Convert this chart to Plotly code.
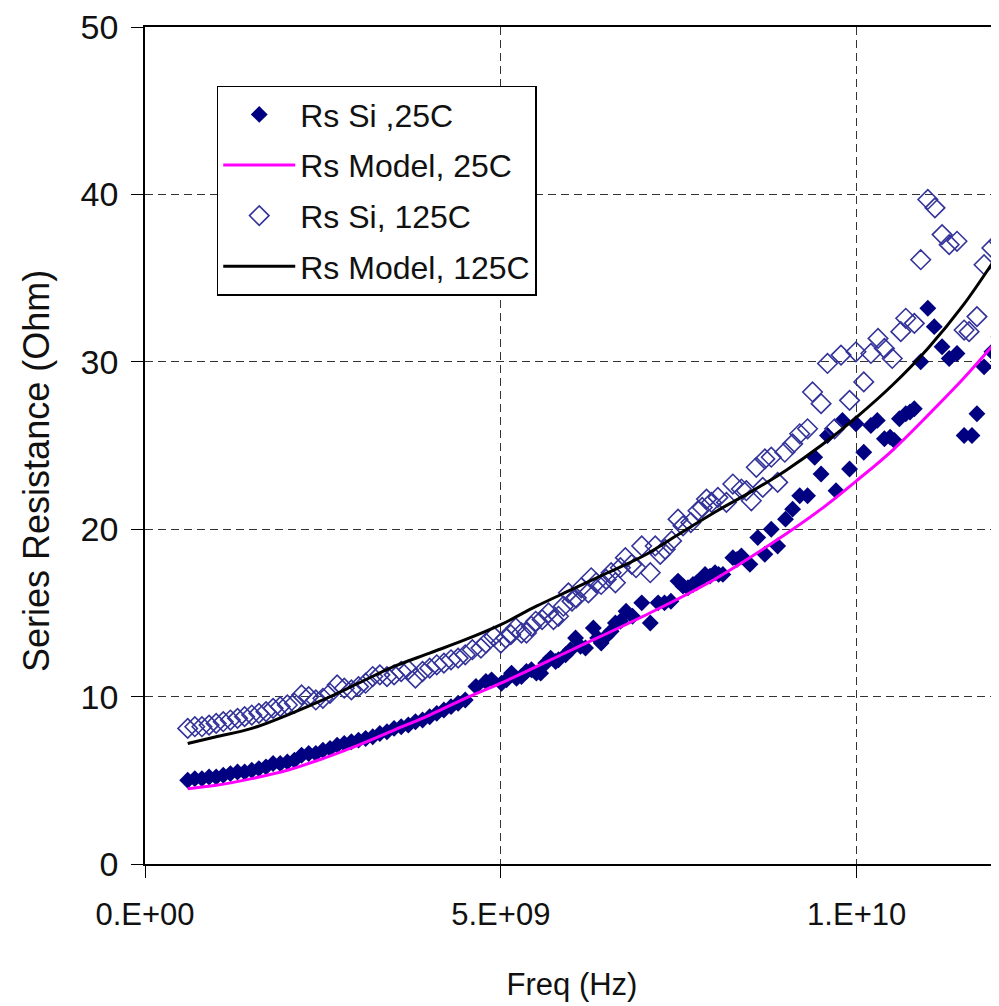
import numpy as np
import plotly.graph_objects as go

# %% data (frequency in GHz, resistance in Ohm)
f_si_25 = [0.6, 0.7, 0.8, 0.9, 1.0, 1.1, 1.2, 1.3, 1.4, 1.5, 1.6, 1.7, 1.8, 1.9, 2.0,
           2.1, 2.2, 2.3, 2.4, 2.5, 2.6, 2.7, 2.8, 2.9, 3.0, 3.1, 3.2, 3.3, 3.4, 3.5,
           3.6, 3.7, 3.8, 3.9, 4.0, 4.1, 4.2, 4.3, 4.4, 4.5, 4.65, 4.79, 4.87, 5.01,
           5.08, 5.15, 5.22, 5.29, 5.36, 5.43, 5.5, 5.56, 5.63, 5.7, 5.77, 5.81, 5.91,
           5.98, 6.05, 6.12, 6.19, 6.3, 6.36, 6.41, 6.48, 6.55, 6.61, 6.68, 6.76, 6.85,
           6.98, 7.1, 7.21, 7.3, 7.39, 7.49, 7.56, 7.63, 7.7, 7.75, 7.81, 7.87, 7.94,
           8.01, 8.06, 8.12, 8.26, 8.32, 8.38, 8.5, 8.61, 8.71, 8.8, 8.89, 9.0, 9.1,
           9.2, 9.31, 9.41, 9.5, 9.59, 9.71, 9.8, 9.9, 9.99, 10.1, 10.2, 10.29, 10.39,
           10.47, 10.53, 10.6, 10.69, 10.75, 10.81, 10.9, 11.0, 11.09, 11.2, 11.3,
           11.41, 11.51, 11.62, 11.69, 11.79, 11.9, 12.0]
rs_si_25 = [5.0, 5.1, 5.1, 5.2, 5.2, 5.3, 5.4, 5.5, 5.5, 5.6, 5.7, 5.8, 6.0, 6.0, 6.1,
            6.2, 6.5, 6.6, 6.6, 6.8, 6.9, 7.1, 7.2, 7.3, 7.4, 7.5, 7.6, 7.8, 7.9, 8.1,
            8.2, 8.3, 8.5, 8.6, 8.8, 9.0, 9.2, 9.4, 9.6, 9.8, 10.6, 10.9, 11.0, 10.8,
            11.0, 11.4, 11.1, 11.2, 11.5, 11.6, 11.4, 11.4, 12.0, 12.3, 12.1, 12.2, 12.5,
            12.8, 13.5, 13.0, 12.9, 14.1, 13.5, 13.2, 13.6, 13.9, 14.4, 14.5, 15.1, 14.8,
            15.6, 14.4, 15.6, 15.6, 15.7, 16.9, 16.6, 16.5, 16.7, 16.8, 17.0, 17.3, 17.2,
            17.4, 17.3, 17.3, 18.3, 18.2, 18.4, 17.9, 19.5, 18.5, 20.0, 19.0, 20.6, 21.2,
            22.0, 22.0, 24.3, 23.3, 25.6, 22.3, 26.5, 23.6, 26.3, 24.6, 26.2, 26.5, 25.4,
            25.5, 25.3, 26.6, 26.9, 27.0, 27.2, 30.0, 33.2, 32.1, 30.9, 30.2,
            30.5, 25.6, 25.6, 26.9, 29.7, 30.6, 31.5]

f_si_125 = [0.6, 0.7, 0.8, 0.9, 1.0, 1.1, 1.2, 1.3, 1.4, 1.5, 1.6, 1.7, 1.8, 1.9, 2.0,
            2.1, 2.2, 2.3, 2.4, 2.5, 2.6, 2.7, 2.8, 2.9, 3.0, 3.1, 3.2, 3.3, 3.4, 3.5,
            3.6, 3.7, 3.8, 3.9, 4.0, 4.1, 4.2, 4.3, 4.4, 4.5, 4.6, 4.72, 4.79, 4.9, 5.0,
            5.07, 5.14, 5.21, 5.29, 5.36, 5.43, 5.49, 5.58, 5.67, 5.74, 5.81, 5.88, 5.95,
            6.0, 6.06, 6.13, 6.23, 6.27, 6.34, 6.41, 6.48, 6.55, 6.61, 6.68, 6.75, 6.84,
            6.9, 6.98, 7.1, 7.17, 7.24, 7.31, 7.4, 7.49, 7.56, 7.67, 7.77, 7.83, 7.89,
            7.96, 8.05, 8.17, 8.26, 8.38, 8.45, 8.52, 8.59, 8.68, 8.71, 8.8, 8.89, 8.99,
            9.1, 9.2, 9.31, 9.38, 9.5, 9.59, 9.69, 9.78, 9.9, 9.99, 10.1, 10.2, 10.3,
            10.39, 10.5, 10.62, 10.69, 10.81, 10.9, 11.0, 11.1, 11.2, 11.3, 11.41, 11.51,
            11.58, 11.69, 11.79, 11.9, 12.0]
rs_si_125 = [8.1, 8.2, 8.2, 8.3, 8.4, 8.5, 8.6, 8.7, 8.8, 8.9, 9.0, 9.1, 9.3, 9.4, 9.5,
             9.6, 10.1, 10.0, 9.8, 9.9, 10.2, 10.7, 10.5, 10.4, 10.6, 10.8, 11.2, 11.3, 11.2, 11.3,
             11.5, 11.6, 11.1, 11.5, 11.7, 11.9, 12.0, 12.2, 12.3, 12.5, 12.8, 12.9, 13.2, 13.6, 13.2,
             13.5, 13.7, 14.1, 13.8, 13.8, 14.2, 14.5, 14.6, 15.0, 14.6, 14.8, 15.4, 16.2,
             15.7, 15.9, 16.5, 16.2, 17.1, 16.8, 16.7, 17.0, 17.4, 16.8, 17.7, 18.3, 17.9,
             17.7, 19.0, 17.4, 19.0, 18.5, 18.8, 19.3, 20.6, 20.2, 20.4, 21.1, 21.3, 21.8,
             21.6, 21.9, 21.6, 22.7, 22.4, 22.3, 21.7, 23.7, 22.5, 24.2, 24.3, 22.8, 24.6,
             25.1, 25.7, 26.0, 28.2, 27.5, 29.9, 26.0, 30.4, 27.7, 30.6, 28.8, 30.5, 31.4,
             30.8, 30.2, 31.8, 32.6, 32.3, 36.1, 39.7, 39.2, 37.6, 37.0, 37.2, 31.9,
             31.8, 32.7, 35.8, 36.8, 37.2]

f_model_25 = [0.6, 1.0, 1.5, 2.0, 2.5, 3.0, 3.5, 4.0, 4.5, 5.0, 6.0, 7.0, 8.0, 9.0,
              9.5, 10.0, 10.5, 11.0, 11.5, 12.0]
rs_model_25 = [4.5, 4.7, 5.1, 5.6, 6.3, 7.1, 8.0, 8.9, 9.9, 10.8, 12.8, 14.8, 17.0, 19.7,
               21.2, 22.9, 24.7, 26.8, 29.0, 31.4]

f_model_125 = [0.6, 1.0, 1.5, 2.0, 2.5, 3.0, 3.5, 4.0, 4.5, 5.0, 5.5, 6.0, 6.5, 7.0,
               7.5, 8.0, 8.5, 9.0, 9.5, 10.0, 10.5, 11.0, 11.5, 12.0]
rs_model_125 = [7.2, 7.6, 8.1, 8.9, 9.8, 10.8, 11.8, 12.6, 13.4, 14.3, 15.4, 16.4, 17.4,
                18.4, 19.7, 21.0, 22.2, 23.5, 25.0, 26.7, 28.6, 30.8, 33.4, 36.5]

x_ticks = [0, 5e9, 1e10]
x_ticklabels = ['0.E+00', '5.E+09', '1.E+10']
y_ticks = [0, 10, 20, 30, 40, 50]

GHZ = 1e9
FONT = 'Liberation Sans, Arial, sans-serif'
GRID = dict(showgrid=True, gridcolor='#333333', griddash='8px,5px', gridwidth=1.2)

fig = go.Figure()

fig.add_trace(go.Scatter(
    x=np.array(f_si_25) * GHZ, y=rs_si_25, mode='markers', name='Rs Si ,25C',
    legendgroup='a',
    marker=dict(symbol='diamond', size=13, color='#000080', line=dict(width=0)),
))
fig.add_trace(go.Scatter(
    x=np.array(f_model_25) * GHZ, y=rs_model_25, mode='lines', name='Rs Model, 25C',
    legendgroup='b',
    line=dict(color='#ff00ff', width=3, shape='spline'),
))
fig.add_trace(go.Scatter(
    x=np.array(f_si_125) * GHZ, y=rs_si_125, mode='markers', name='Rs Si, 125C',
    legendgroup='c',
    marker=dict(symbol='diamond-open', size=15, color='#33339a', line=dict(width=1.6)),
))
fig.add_trace(go.Scatter(
    x=np.array(f_model_125) * GHZ, y=rs_model_125, mode='lines', name='Rs Model, 125C',
    legendgroup='d',
    line=dict(color='#000000', width=3, shape='spline'),
))

# page body has an 8px margin, so the figure is shrunk by that much
fig.update_layout(
    width=991, height=998,
    margin=dict(l=137, r=0, t=17, b=142),
    paper_bgcolor='white', plot_bgcolor='white',
    font=dict(family=FONT, color='#111111'),
    legend=dict(
        x=0.084, y=0.93, xanchor='left', yanchor='top',
        bgcolor='white', bordercolor='#000000', borderwidth=1.5,
        font=dict(size=32, family=FONT), tracegroupgap=6, itemwidth=72,
    ),
    xaxis=dict(
        range=[0, 1.2e10], tickvals=x_ticks, ticktext=x_ticklabels,
        showline=True, mirror=True, linecolor='#000000', linewidth=1.5,
        ticks='outside', ticklen=12, tickcolor='#000000',
        zeroline=False, tickfont=dict(size=31), ticklabelstandoff=10,
        title=dict(text='Freq (Hz)', font=dict(size=31), standoff=42),
        **GRID,
    ),
    yaxis=dict(
        range=[0, 50.002], tickvals=y_ticks, ticklabeloverflow='allow',
        showline=True, linecolor='#000000', linewidth=1.5,
        ticks='outside', ticklen=12, tickcolor='#000000',
        zeroline=False, tickfont=dict(size=34), ticklabelstandoff=6,
        **GRID,
    ),
    annotations=[dict(
        text='Series Resistance (Ohm)', textangle=-90,
        xref='paper', yref='paper', x=(37 - 145) / 854, y=(864 - 470) / 839,
        xanchor='center', yanchor='middle', showarrow=False,
        font=dict(size=36, family=FONT, color='#111111'),
    )],
)

fig.write_html('out.html')
